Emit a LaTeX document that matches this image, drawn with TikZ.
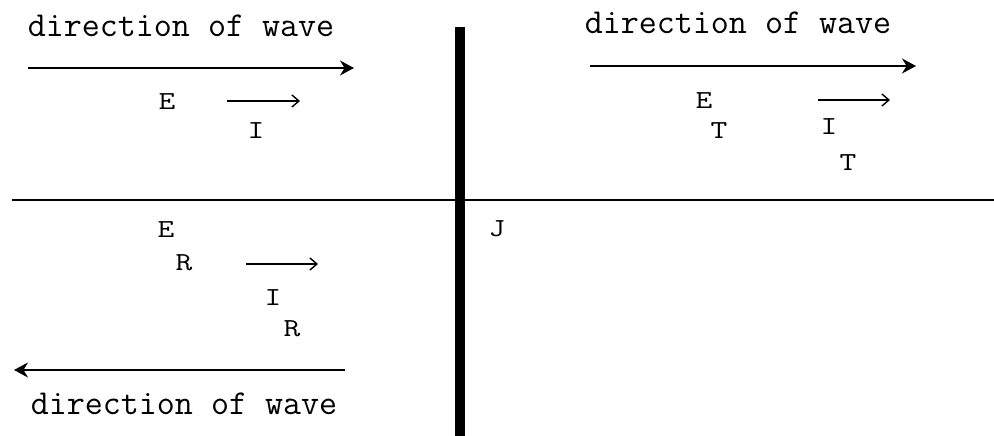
\documentclass[tikz,border=0pt]{standalone}
\usepackage{fontspec}
\usetikzlibrary{arrows.meta}
\newcommand{\widelbl}[1]{\scalebox{1.25}[1]{#1}}
\tikzset{
  wavetxt/.style={font=\ttfamily\fontsize{35}{38}\selectfont, inner sep=0pt, anchor=base},
  lbl/.style={font=\ttfamily\fontsize{26}{30}\selectfont, inner sep=0pt, anchor=base},
  bigarrow/.style={line width=1.6pt, -{Stealth[length=14pt,width=15pt]}},
  smallarrow/.style={line width=1.6pt, -{Straight Barb[length=7pt,width=12pt,line width=1.4pt]}},
  plate/.style={line width=10pt},
  axis/.style={line width=1.3pt}
}
\begin{document}
\begin{tikzpicture}[x=1pt,y=-1pt]
\useasboundingbox (0,0) rectangle (994,436);
% text
\node[wavetxt] (tl) at (181,37) {direction of wave};
\node[wavetxt] (tr) at (738,34) {direction of wave};
\node[wavetxt] (bl) at (184,414) {direction of wave};
% labels
\node[lbl] (ei) at (167,110) {\widelbl{E}};
\node[lbl] (ii) at (256,139) {\widelbl{I}};
\node[lbl] (et) at (704,108) {\widelbl{E}};
\node[lbl] (et2) at (719,138) {\widelbl{T}};
\node[lbl] (it) at (829,135) {\widelbl{I}};
\node[lbl] (it2) at (848,170) {\widelbl{T}};
\node[lbl] (er) at (166,237) {\widelbl{E}};
\node[lbl] (er2) at (184,270) {\widelbl{R}};
\node[lbl] (ir) at (273,305) {\widelbl{I}};
\node[lbl] (ir2) at (292,336) {\widelbl{R}};
\node[lbl] (j) at (497,236) {\widelbl{J}};
% coordinates
\coordinate (a1s) at (28,68);  \coordinate (a1e) at (354,68);
\coordinate (a2s) at (590,66); \coordinate (a2e) at (916,66);
\coordinate (a3s) at (345,370); \coordinate (a3e) at (14,370);
\coordinate (s1s) at (227,101); \coordinate (s1e) at (300,101);
\coordinate (s2s) at (818,100); \coordinate (s2e) at (890,100);
\coordinate (s3s) at (246,264); \coordinate (s3e) at (318,264);
\coordinate (hl) at (12,200); \coordinate (hr) at (994,200);
\coordinate (vt) at (460,27); \coordinate (vb) at (460,436);
% lines
\draw[axis] (hl) -- (hr);
\draw[plate] (vt) -- (vb);
\draw[bigarrow] (a1s) -- (a1e);
\draw[bigarrow] (a2s) -- (a2e);
\draw[bigarrow] (a3s) -- (a3e);
\draw[smallarrow] (s1s) -- (s1e);
\draw[smallarrow] (s2s) -- (s2e);
\draw[smallarrow] (s3s) -- (s3e);
\end{tikzpicture}
\end{document}
